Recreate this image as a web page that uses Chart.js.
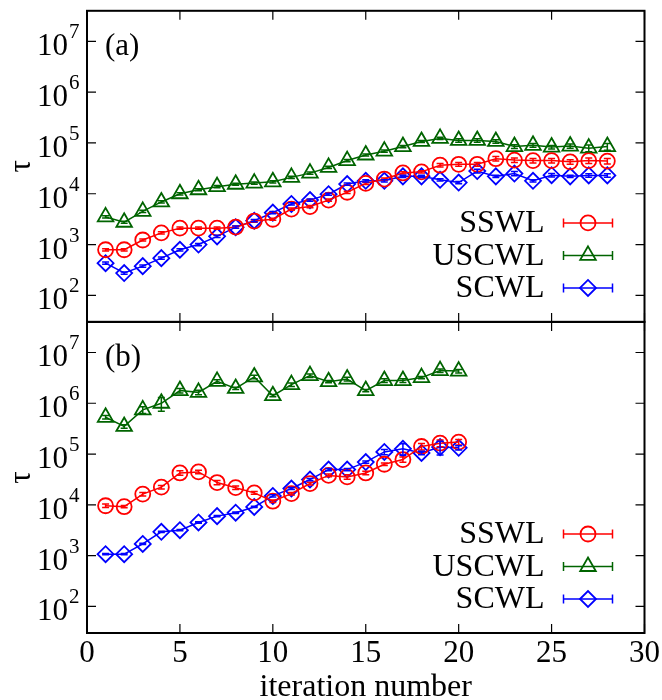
<!DOCTYPE html>
<html>
<head>
<meta charset="utf-8">
<script src="https://cdn.jsdelivr.net/npm/chart.js@4.4.0/dist/chart.umd.min.js"></script>
<style>
  html, body { margin: 0; padding: 0; background: #fff; }
  #wrap { width: 662px; height: 700px; }
</style>
</head>
<body>
<div id="wrap"><canvas id="chart" width="662" height="700"></canvas></div>
<script>
// iteration numbers
const itersTop = [1, 2, 3, 4, 5, 6, 7, 8, 9, 10, 11, 12, 13, 14, 15, 16, 17, 18, 19, 20, 21, 22, 23, 24, 25, 26, 27, 28];
const itersBot = [1, 2, 3, 4, 5, 6, 7, 8, 9, 10, 11, 12, 13, 14, 15, 16, 17, 18, 19, 20];

// panel (a)
const topSSWL  = [790, 790, 1230, 1700, 2100, 2100, 2100, 2200, 2900, 3150, 5000, 5600, 7500, 10700, 16000, 19500, 25700, 27000, 36500, 38000, 38000, 49000, 46000, 45000, 45000, 42500, 45000, 44000];
const topUSCWL = [3500, 2750, 4500, 6900, 10000, 12000, 13800, 15400, 16200, 17200, 21000, 25500, 33000, 45000, 58000, 69000, 85000, 107000, 123000, 112000, 112000, 107000, 85000, 90000, 83000, 87000, 79000, 85000];
const topSCWL  = [430, 275, 376, 540, 790, 1000, 1450, 2200, 2950, 4250, 6300, 7500, 9800, 15500, 18000, 18000, 22000, 22000, 18800, 16600, 28000, 22000, 25000, 18000, 23200, 22000, 23000, 23000];

// panel (b)
const botSSWL  = [9600, 9200, 16300, 22300, 42500, 44500, 27500, 21800, 17200, 11800, 16600, 26300, 38000, 35500, 42500, 63000, 78000, 141000, 164000, 172000];
const botUSCWL = [530000, 350000, 740000, 1000000, 1780000, 1640000, 2700000, 1960000, 3300000, 1410000, 2330000, 3500000, 2660000, 3000000, 1780000, 2800000, 2800000, 3200000, 4400000, 4300000];
const botSCWL  = [1070, 1070, 1700, 2950, 3170, 4500, 6000, 7000, 9100, 15000, 21000, 31500, 49500, 49500, 69500, 110000, 127000, 105000, 137000, 133000];

// relative error bars
const topSSWLErr  = [0.05, 0.05, 0.05, 0.05, 0.05, 0.05, 0.05, 0.05, 0.05, 0.05, 0.05, 0.05, 0.05, 0.05, 0.05, 0.05, 0.05, 0.05, 0.08, 0.08, 0.08, 0.1, 0.1, 0.1, 0.1, 0.1, 0.12, 0.12];
const topUSCWLErr = [0.05, 0.05, 0.05, 0.05, 0.05, 0.05, 0.05, 0.05, 0.05, 0.05, 0.05, 0.05, 0.05, 0.05, 0.05, 0.05, 0.05, 0.05, 0.05, 0.08, 0.08, 0.08, 0.08, 0.08, 0.08, 0.1, 0.15, 0.15];
const topSCWLErr  = [0.05, 0.05, 0.05, 0.05, 0.05, 0.05, 0.05, 0.05, 0.05, 0.05, 0.05, 0.05, 0.05, 0.05, 0.05, 0.05, 0.05, 0.05, 0.05, 0.05, 0.08, 0.05, 0.1, 0.05, 0.08, 0.05, 0.08, 0.08];
const botSSWLErr  = [0.08, 0.05, 0.08, 0.08, 0.1, 0.08, 0.1, 0.08, 0.06, 0.06, 0.06, 0.06, 0.06, 0.1, 0.08, 0.06, 0.12, 0.15, 0.15, 0.12];
const botUSCWLErr = [0.08, 0.08, 0.15, 0.3, 0.1, 0.1, 0.08, 0.05, 0.08, 0.05, 0.08, 0.08, 0.05, 0.08, 0.05, 0.08, 0.08, 0.05, 0.08, 0.08];
const botSCWLErr  = [0.03, 0.03, 0.03, 0.03, 0.03, 0.03, 0.03, 0.03, 0.03, 0.05, 0.05, 0.05, 0.05, 0.05, 0.05, 0.12, 0.25, 0.08, 0.3, 0.1];

const seriesNames = ['SSWL', 'USCWL', 'SCWL'];
const xTicks = [0, 5, 10, 15, 20, 25, 30];
const yDecades = [2, 3, 4, 5, 6, 7];

const RED = '#ff0000';
const GREEN = '#006400';
const BLUE = '#0000ff';
const SERIF = "'Liberation Serif', 'Times New Roman', serif";

const styles = {
    SSWL:  { color: RED,   pointStyle: 'circle',   radius: 7.5 },
    USCWL: { color: GREEN, pointStyle: 'triangle', radius: 9 },
    SCWL:  { color: BLUE,  pointStyle: 'rectRot',  radius: 8 }
};

function makeSet(name, xs, ys, errs, axis) {
    const st = styles[name];
    return {
        label: name,
        data: xs.map((x, i) => ({ x: x, y: ys[i] })),
        errs: errs,
        yAxisID: axis,
        borderColor: st.color,
        backgroundColor: 'rgba(0,0,0,0)',
        borderWidth: 1.5,
        pointStyle: st.pointStyle,
        pointRadius: st.radius,
        pointBorderWidth: 1.8,
        pointBorderColor: st.color,
        pointBackgroundColor: 'rgba(0,0,0,0)',
        tension: 0
    };
}

const datasets = [
    makeSet('SSWL',  itersTop, topSSWL,  topSSWLErr,  'yTop'),
    makeSet('USCWL', itersTop, topUSCWL, topUSCWLErr, 'yTop'),
    makeSet('SCWL',  itersTop, topSCWL,  topSCWLErr,  'yTop'),
    makeSet('SSWL',  itersBot, botSSWL,  botSSWLErr,  'yBot'),
    makeSet('USCWL', itersBot, botUSCWL, botUSCWLErr, 'yBot'),
    makeSet('SCWL',  itersBot, botSCWL,  botSCWLErr,  'yBot')
];

// error bars, frame, inward ticks, y labels, panel labels, legends
const decorPlugin = {
    id: 'decor',
    afterDatasetsDraw(chart) {
        const ctx = chart.ctx;
        chart.data.datasets.forEach(ds => {
            const yScale = chart.scales[ds.yAxisID];
            const xScale = chart.scales.x;
            ctx.save();
            ctx.strokeStyle = ds.borderColor;
            ctx.lineWidth = 1.5;
            ds.data.forEach((p, i) => {
                const e = ds.errs[i];
                const px = xScale.getPixelForValue(p.x);
                const lo = yScale.getPixelForValue(p.y * (1 - e));
                const hi = yScale.getPixelForValue(p.y * (1 + e));
                ctx.beginPath();
                ctx.moveTo(px, lo); ctx.lineTo(px, hi);
                ctx.moveTo(px - 3.5, lo); ctx.lineTo(px + 3.5, lo);
                ctx.moveTo(px - 3.5, hi); ctx.lineTo(px + 3.5, hi);
                ctx.stroke();
            });
            ctx.restore();
        });
    },
    afterDraw(chart) {
        const ctx = chart.ctx;
        const xs = chart.scales.x;
        const left = chart.chartArea.left, right = chart.chartArea.right;
        const panels = [
            { scale: chart.scales.yTop, tag: '(a)' },
            { scale: chart.scales.yBot, tag: '(b)' }
        ];
        ctx.save();
        panels.forEach(pn => {
            const ys = pn.scale;
            const top = ys.top, bottom = ys.bottom;

            // frame
            ctx.strokeStyle = '#000';
            ctx.lineWidth = 2;
            ctx.strokeRect(left, top, right - left, bottom - top);

            // inward ticks
            ctx.lineWidth = 1.2;
            ctx.beginPath();
            xTicks.forEach(t => {
                const px = xs.getPixelForValue(t);
                ctx.moveTo(px, top); ctx.lineTo(px, top + 9);
                ctx.moveTo(px, bottom); ctx.lineTo(px, bottom - 9);
            });
            yDecades.forEach(d => {
                const py = ys.getPixelForValue(Math.pow(10, d));
                ctx.moveTo(left, py); ctx.lineTo(left + 9, py);
                ctx.moveTo(right, py); ctx.lineTo(right - 9, py);
            });
            ctx.stroke();

            // y tick labels 10^n
            ctx.fillStyle = '#000';
            ctx.textBaseline = 'alphabetic';
            yDecades.forEach(d => {
                const py = ys.getPixelForValue(Math.pow(10, d));
                ctx.font = '31px ' + SERIF;
                ctx.textAlign = 'right';
                ctx.fillText('10', left - 19, py + 14);
                ctx.font = '21px ' + SERIF;
                ctx.textAlign = 'left';
                ctx.fillText(String(d), left - 18, py - 3);
            });

            // tau label
            ctx.save();
            ctx.translate(22, (top + bottom) / 2);
            ctx.rotate(-Math.PI / 2);
            ctx.font = '31px ' + SERIF;
            ctx.textAlign = 'center';
            ctx.textBaseline = 'middle';
            ctx.fillText('τ', 0, 0);
            ctx.restore();

            // panel tag
            ctx.font = '31px ' + SERIF;
            ctx.textAlign = 'left';
            ctx.textBaseline = 'alphabetic';
            ctx.fillText(pn.tag, left + 18, top + 44);

            // legend
            seriesNames.forEach((name, k) => {
                const st = styles[name];
                const ry = bottom - 99 + k * 32.5;
                ctx.fillStyle = '#000';
                ctx.font = '32px ' + SERIF;
                ctx.textAlign = 'right';
                ctx.textBaseline = 'middle';
                ctx.fillText(name, right - 100, ry + 1);
                const x0 = right - 81, x1 = right - 32, xm = (x0 + x1) / 2;
                ctx.strokeStyle = st.color;
                ctx.lineWidth = 1.5;
                ctx.beginPath();
                ctx.moveTo(x0, ry); ctx.lineTo(x1, ry);
                ctx.moveTo(x0, ry - 4.5); ctx.lineTo(x0, ry + 4.5);
                ctx.moveTo(x1, ry - 4.5); ctx.lineTo(x1, ry + 4.5);
                ctx.stroke();
                ctx.fillStyle = 'rgba(0,0,0,0)';
                ctx.lineWidth = 1.8;
                Chart.helpers.drawPoint(ctx, { pointStyle: st.pointStyle, radius: st.radius, borderWidth: 1.8, rotation: 0 }, xm, ry);
            });
        });
        ctx.restore();
    }
};

const yAxisBase = {
    type: 'logarithmic',
    position: 'left',
    stack: 'panels',
    stackWeight: 1,
    min: 30,
    max: 4e7,
    ticks: { display: false },
    grid: { display: false, drawTicks: false },
    border: { display: false },
    afterFit(scale) { scale.width = 87; }
};

new Chart(document.getElementById('chart'), {
    type: 'line',
    data: { datasets: datasets },
    options: {
        responsive: false,
        animation: false,
        devicePixelRatio: 1,
        layout: { padding: { top: 8, right: 17, left: 0, bottom: 0 } },
        plugins: {
            legend: { display: false },
            tooltip: { enabled: false }
        },
        scales: {
            x: {
                type: 'linear',
                min: 0,
                max: 30,
                ticks: {
                    stepSize: 5,
                    color: '#000',
                    font: { family: SERIF, size: 31 },
                    padding: 2,
                    maxRotation: 0
                },
                grid: { display: false, drawTicks: false },
                border: { display: false },
                title: {
                    display: true,
                    text: 'iteration number',
                    color: '#000',
                    font: { family: SERIF, size: 32 },
                    padding: { top: 0, bottom: -7 }
                },
                afterFit(scale) { scale.height = 67; }
            },
            yTop: Object.assign({}, yAxisBase, { weight: 1 }),
            yBot: Object.assign({}, yAxisBase, { weight: 0 })
        }
    },
    plugins: [decorPlugin]
});
</script>
</body>
</html>
